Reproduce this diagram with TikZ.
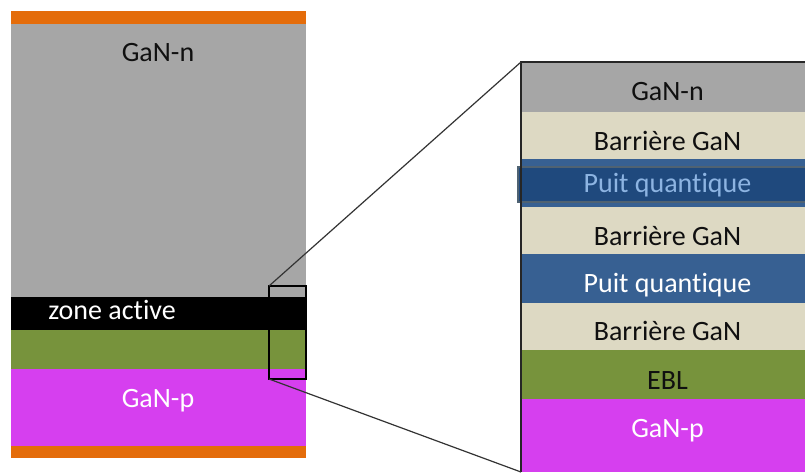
\documentclass[tikz,border=0pt]{standalone}
\usepackage{fontspec}
\setmainfont{Carlito}[Ligatures={NoCommon,NoRare,NoContextual}, RawFeature={-liga;-clig;-dlig}]
\newcommand{\tI}{t\kern0pt i}
\definecolor{cOrange}{HTML}{E46C0A}
\definecolor{cGray}{HTML}{A6A6A6}
\definecolor{cGreen}{HTML}{77933C}
\definecolor{cMag}{HTML}{D63FEF}
\definecolor{cBeige}{HTML}{DDD9C3}
\definecolor{cBlue}{HTML}{376092}
\definecolor{cDark}{HTML}{1F497D}
\definecolor{cBorder}{HTML}{4F6272}
\definecolor{cLight}{HTML}{8DB4E2}
\definecolor{cText}{HTML}{101010}
\tikzset{
  lab/.style={font=\fontsize{21}{25}\selectfont, inner sep=0pt, anchor=base, text=cText},
  wlab/.style={lab, text=white},
  link/.style={draw=black!80, line width=0.9pt},
}
\begin{document}
\begin{tikzpicture}[x=0.75pt,y=-0.75pt]
\useasboundingbox (0,0) rectangle (805,472);
% left stack
\fill[cOrange] (11,11) rectangle (306,24);
\fill[cGray] (11,24) rectangle (306,297);
\fill[black] (11,297) rectangle (306,330);
\fill[cGreen] (11,330) rectangle (306,369);
\fill[cMag] (11,369) rectangle (306,446);
\fill[cOrange] (11,446) rectangle (306,458);
\node[lab] (ln) at (158,61.5) {GaN-n};
\node[wlab, anchor=base west] (za) at (48,319.5) {zone ac\tI ve};
\node[wlab] (lp) at (158,407) {GaN-p};
% right stack
\fill[cGray] (521,62) rectangle (805,112);
\fill[cBeige] (521,112) rectangle (805,159);
\fill[cBlue] (521,159) rectangle (805,207);
\fill[cBeige] (521,207) rectangle (805,254);
\fill[cBlue] (521,254) rectangle (805,303);
\fill[cBeige] (521,303) rectangle (805,350);
\fill[cGreen] (521,350) rectangle (805,399);
\fill[cMag] (521,399) rectangle (805,472);
\draw[cBorder, fill=cDark, line width=1.6pt] (518,167) rectangle (808,202);
\node[lab] (r1) at (667.5,100) {GaN-n};
\node[lab] (r2) at (667.5,150) {Barrière GaN};
\node[lab, text=cLight] (r3) at (667.5,192) {Puit quan\tI que};
\node[lab] (r4) at (667.5,245) {Barrière GaN};
\node[wlab] (r5) at (667.5,292) {Puit quan\tI que};
\node[lab] (r6) at (667.5,340) {Barrière GaN};
\node[lab] (r7) at (667.5,389) {EBL};
\node[wlab] (r8) at (667.5,437) {GaN-p};
% frame of detail
\coordinate (dTL) at (521,62);
\coordinate (dTR) at (805,62);
\coordinate (dBL) at (521,472);
\draw[black!85, line width=1.3pt] (dBL) -- (dTL) -- (dTR);
% zoom box and links
\coordinate (zTL) at (269,286);
\coordinate (zBR) at (306,379);
\coordinate (zBL) at (269,379);
\draw[black, line width=1pt] (zTL) rectangle (zBR);
\draw[link] (zTL) -- (dTL);
\draw[link] (zBL) -- (dBL);
\end{tikzpicture}
\end{document}
